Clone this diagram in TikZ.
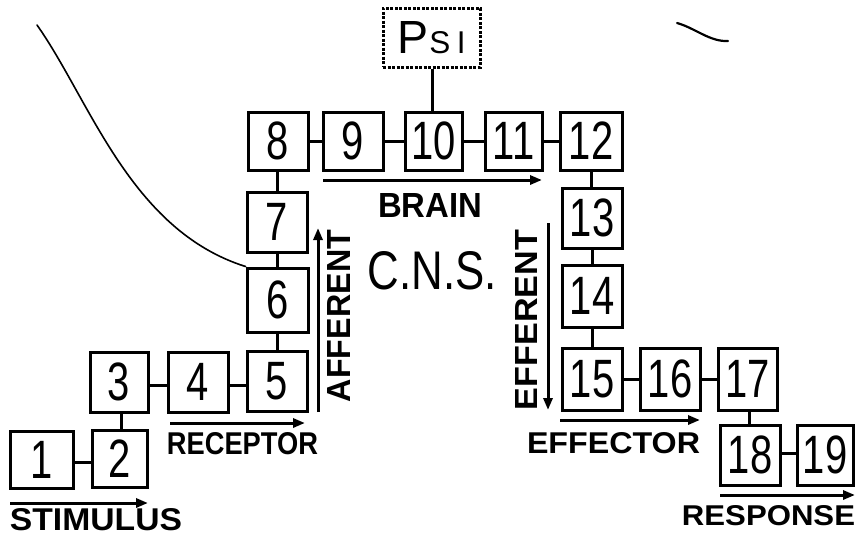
\documentclass[tikz,border=0pt]{standalone}
\usepackage{fontspec}
\setmainfont{Liberation Sans}
\usetikzlibrary{arrows.meta}
\newcommand\numfont{\fontsize{54}{54}\selectfont}
\newcommand\dg[1]{\scalebox{0.74}[1]{#1}}
\newcommand\fitlab[3]{\resizebox{#1}{#2}{#3}}
\begin{document}
\begin{tikzpicture}[x=1pt,y=-1pt,
  box/.style={draw,line width=3pt,inner sep=0pt,minimum width=60pt,minimum height=60pt,font=\numfont},
  link/.style={line width=3pt},
  flow/.style={line width=3pt,-{Triangle[length=12pt,width=9pt]}},
  lab/.style={inner sep=0pt,font=\bfseries},
  stray/.style={line width=1.6pt,line cap=round},
]
\useasboundingbox (0,0) rectangle (858,538);

% stimulus / receptor chain
\node[box,minimum width=63pt,minimum height=57pt] (b1) at (41.5,460) {\dg{1}};
\node[box,minimum width=55pt,minimum height=57pt] (b2) at (119.5,459) {\dg{2}};
\node[box,minimum width=58pt] (b3) at (119,382) {\dg{3}};
\node[box] (b4) at (198,382) {\dg{4}};
\node[box] (b5) at (277,381) {\dg{5}};
% afferent column
\node[box,minimum width=61pt,minimum height=64pt] (b6) at (277.5,300) {\dg{6}};
\node[box] (b7) at (277,222) {\dg{7}};
% brain row
\node[box,minimum height=58pt] (b8) at (278,141) {\dg{8}};
\node[box,minimum height=58pt] (b9) at (353,141) {\dg{9}};
\node[box,minimum width=57pt,minimum height=58pt] (b10) at (433.5,141) {\dg{10}};
\node[box,minimum width=57pt,minimum height=58pt] (b11) at (513.5,141) {\dg{11}};
\node[box,minimum width=62pt,minimum height=58pt] (b12) at (591,141) {\dg{12}};
\node[draw,line width=3pt,dash pattern=on 3pt off 1.5pt,inner sep=0pt,
      minimum width=97pt,minimum height=59pt] (psi) at (431.5,37.5)
      {\resizebox{!}{32pt}{P}\hspace{1pt}\resizebox{!}{22pt}{S\hspace{2pt}I}};
% efferent column
\node[box] (b13) at (592,218) {\dg{13}};
\node[box,minimum height=62pt] (b14) at (592,296) {\dg{14}};
\node[box,minimum height=62pt] (b15) at (592,379) {\dg{15}};
% effector / response chain
\node[box,minimum height=62pt] (b16) at (670,379) {\dg{16}};
\node[box,minimum width=59pt,minimum height=62pt] (b17) at (747.5,379) {\dg{17}};
\node[box] (b18) at (750,455) {\dg{18}};
\node[box,minimum width=56pt] (b19) at (825,455) {\dg{19}};

% links between stages
\draw[link] ([yshift=-2pt]b1.east) -- ([yshift=-2pt]b1.east -| b2.west);
\draw[link] ([xshift=2pt]b3.south) -- ([xshift=2pt]b3.south |- b2.north);
\draw[link] ([yshift=-3pt]b3.east) -- ([yshift=-3pt]b3.east -| b4.west);
\draw[link] ([yshift=-3pt]b4.east) -- ([yshift=-3pt]b4.east -| b5.west);
\draw[link] (b5.north) -- (b5.north |- b6.south);
\draw[link] (b6.north) -- (b6.north |- b7.south);
\draw[link] (b7.north) -- (b7.north |- b8.south);
\draw[link] (b8.east) -- (b8.east -| b9.west);
\draw[link] (b9.east) -- (b9.east -| b10.west);
\draw[link] (b10.east) -- (b10.east -| b11.west);
\draw[link] (b11.east) -- (b11.east -| b12.west);
\draw[link] ([xshift=-1.5pt]b10.north) -- ([xshift=-1.5pt]b10.north |- psi.south);
\draw[link] (b12.south) -- (b12.south |- b13.north);
\draw[link] (b13.south) -- (b13.south |- b14.north);
\draw[link] (b14.south) -- (b14.south |- b15.north);
\draw[link] (b15.east) -- (b15.east -| b16.west);
\draw[link] (b16.east) -- (b16.east -| b17.west);
\draw[link] ([xshift=2pt]b17.south) -- ([xshift=2pt]b17.south |- b18.north);
\draw[link] ([yshift=2pt]b18.east) -- ([yshift=2pt]b18.east -| b19.west);

% direction arrows
\draw[flow] (10,503) -- (148,503);
\draw[flow] (170,423) -- (305,423);
\draw[flow] (318,412) -- (318,228);
\draw[flow] (323,180) -- (542,180);
\draw[flow] (548,223) -- (548,410);
\draw[flow] (560,420) -- (700,420);
\draw[flow] (720,495) -- (855,495);

% labels
\node[lab] (tstim) at (96,520) {\fitlab{172pt}{22pt}{STIMULUS}};
\node[lab] (trec) at (242.5,444) {\fitlab{151pt}{22pt}{RECEPTOR}};
\node[lab,rotate=90] (taff) at (338.5,316) {\fitlab{172pt}{23pt}{AFFERENT}};
\node[lab] (tbrain) at (430,205) {\fitlab{104pt}{24pt}{BRAIN}};
\node[inner sep=0pt] (tcns) at (432.5,271) {\fitlab{129pt}{38pt}{C.N.S.}};
\node[lab,rotate=90] (teff) at (526,320) {\fitlab{180pt}{22pt}{EFFERENT}};
\node[lab] (teffr) at (613.5,443) {\fitlab{173pt}{21pt}{EFFECTOR}};
\node[lab] (tresp) at (768.5,516) {\fitlab{173pt}{20pt}{RESPONSE}};

% pencil strokes
\draw[stray] (37,25) .. controls (90,100) and (130,230) .. (b6.north west);
\draw[stray,line width=2.2pt] (677,23) .. controls (695,28) and (710,42) .. (728,41);
\end{tikzpicture}
\end{document}
